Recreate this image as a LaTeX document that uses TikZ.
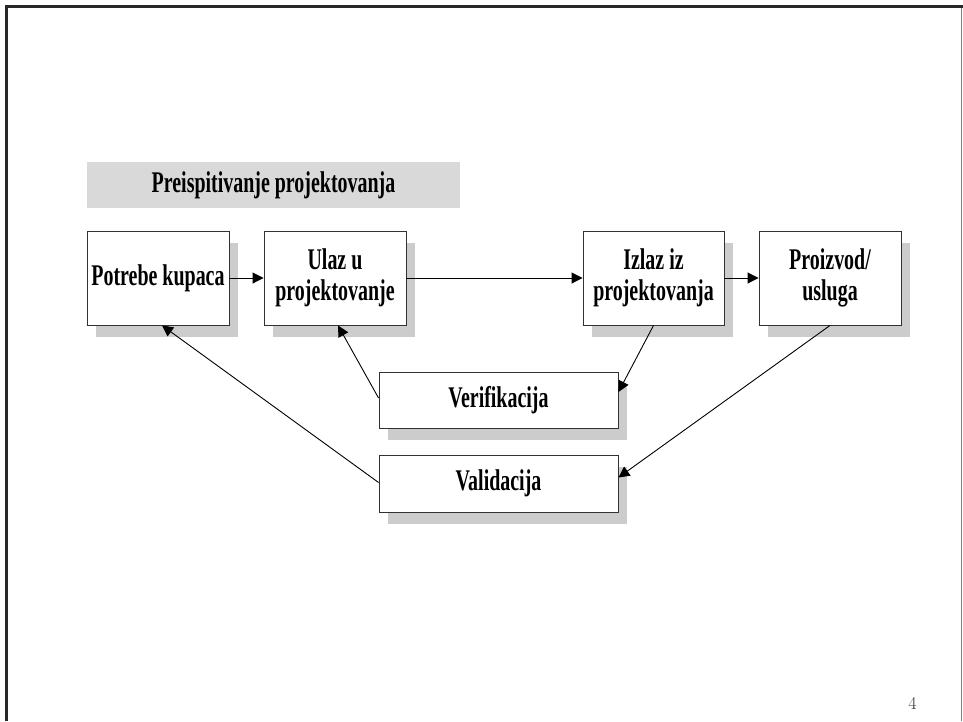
\documentclass[tikz,border=0pt]{standalone}
\usepackage{fontspec}
\usetikzlibrary{arrows.meta,shadows}
\newfontfamily\boxfont{Liberation Serif}[FakeStretch=0.665]
\definecolor{shade}{RGB}{204,204,204}
\definecolor{headfill}{RGB}{217,217,217}
\definecolor{frameline}{RGB}{40,40,40}
\definecolor{boxline}{RGB}{50,50,50}
\tikzset{
  stagebox/.style={draw=boxline, line width=0.9pt, fill=white, align=center,
    inner sep=0pt, font=\boxfont\bfseries\fontsize{30}{31}\selectfont,
    drop shadow={shadow xshift=9pt, shadow yshift=-12pt, opacity=1, fill=shade}},
  headbox/.style={fill=headfill, inner sep=0pt, align=center,
    font=\boxfont\bfseries\fontsize{30}{31}\selectfont},
  flow/.style={line width=0.9pt, -{Triangle[length=11pt,width=11pt]}}
}
\begin{document}
\begin{tikzpicture}[x=1pt, y=-1pt]
\useasboundingbox (0,0) rectangle (963,721);
% page frame
\draw[frameline, line width=3pt] (6,721) -- (6,6) -- (963,6);
\draw[gray, line width=1pt] (961,7.5) -- (961,721);
% title bar
\node[headbox, minimum width=373pt, minimum height=46pt] (head) at (273.5,185) {Preispitivanje projektovanja};
% process boxes
\node[stagebox, minimum width=142pt, minimum height=94pt] (pk) at (158,278) {Potrebe kupaca};
\node[stagebox, minimum width=142pt, minimum height=94pt] (ul) at (335,278) {Ulaz u\\projektovanje};
\node[stagebox, minimum width=141pt, minimum height=94pt] (iz) at (653.5,278) {Izlaz iz\\projektovanja};
\node[stagebox, minimum width=142pt, minimum height=94pt] (pr) at (830,278) {Proizvod/\\usluga};
\node[stagebox, minimum width=239pt, minimum height=56pt] (ve) at (498.5,400) {Verifikacija};
\node[stagebox, minimum width=239pt, minimum height=57pt] (va) at (498.5,483.5) {Validacija};
% connectors
\draw[flow] (pk.east) -- (ul.west);
\draw[flow] (ul.east) -- (iz.west);
\draw[flow] (iz.east) -- (pr.west);
\draw[flow] (iz.south) -- ([yshift=8pt]ve.east);
\draw[flow] (pr.south) -- ([yshift=6pt]va.east);
\draw[flow] ([yshift=2pt]ve.west) -- ([xshift=3pt]ul.south);
\draw[flow] ([yshift=1pt]va.west) -- ([xshift=4pt]pk.south);
% page number
\node[text=black!80, font=\fontsize{18}{18}\selectfont] (pg) at (912.5,703) {4};
\end{tikzpicture}
\end{document}
